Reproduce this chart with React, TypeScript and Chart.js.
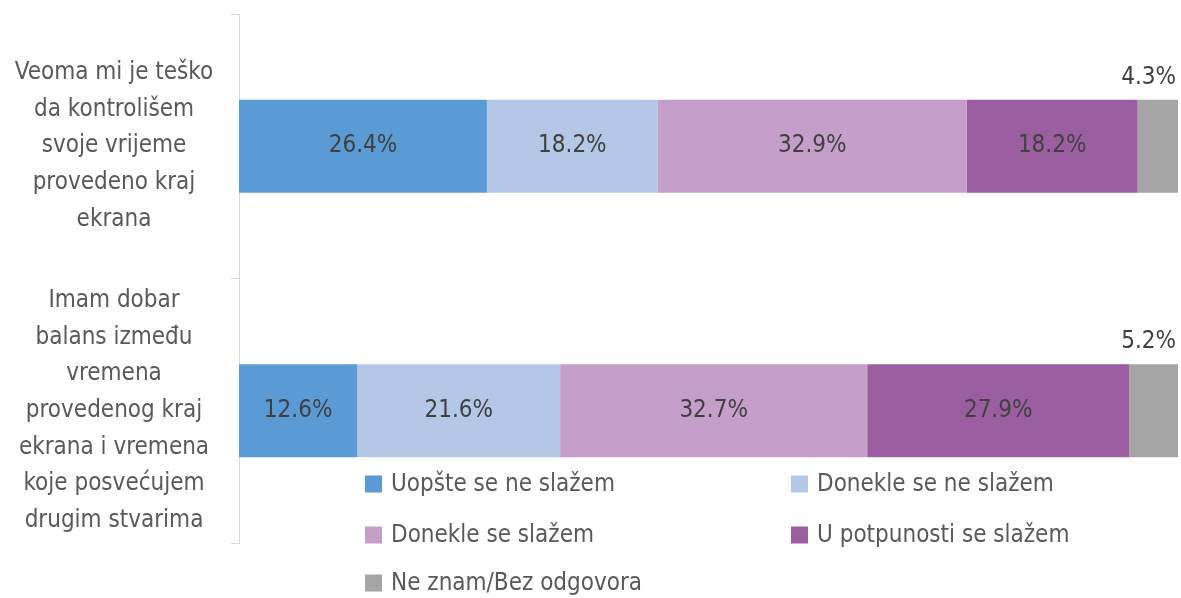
import React, { useEffect, useRef } from "react";
import { Chart, registerables } from "chart.js";

Chart.register(...registerables);

const categories: string[][] = [
  ["Veoma mi je teško", "da kontrolišem", "svoje vrijeme", "provedeno kraj", "ekrana"],
  ["Imam dobar", "balans između", "vremena", "provedenog kraj", "ekrana i vremena", "koje posvećujem", "drugim stvarima"],
];

const seriesNames = [
  "Uopšte se ne slažem",
  "Donekle se ne slažem",
  "Donekle se slažem",
  "U potpunosti se slažem",
  "Ne znam/Bez odgovora",
];

const uopsteNe = [26.4, 12.6];
const doneklaNe = [18.2, 21.6];
const doneklaDa = [32.9, 32.7];
const potpuno = [18.2, 27.9];
const neZnam = [4.3, 5.2];

const colors = ["#5B9BD5", "#B4C7E7", "#C59FC9", "#9B5FA1", "#A5A5A5"];

const FONT = "'Liberation Sans Narrow', 'DejaVu Sans Condensed', 'Roboto', sans-serif";
const FONT_SIZE = 24;

function measureWidest(lines: string[][]): number {
  const c = document.createElement("canvas").getContext("2d")!;
  c.font = `${FONT_SIZE}px ${FONT}`;
  let w = 0;
  lines.forEach((l) => l.forEach((s) => (w = Math.max(w, c.measureText(s).width))));
  return w;
}

const dataLabelPlugin = {
  id: "dataLabels",
  afterDatasetsDraw(chart: any) {
    const ctx = chart.ctx;
    ctx.save();
    ctx.font = `${FONT_SIZE}px ${FONT}`;
    ctx.fillStyle = "#404040";
    chart.data.datasets.forEach((ds: any, di: number) => {
      const meta = chart.getDatasetMeta(di);
      meta.data.forEach((el: any, i: number) => {
        const v = ds.data[i];
        const txt = v.toFixed(1) + "%";
        if (di < 4) {
          ctx.textAlign = "center";
          ctx.textBaseline = "middle";
          ctx.fillText(txt, (el.x + el.base) / 2, el.y);
        } else {
          ctx.textAlign = "right";
          ctx.textBaseline = "middle";
          ctx.fillText(txt, el.x - 2, el.y - el.height / 2 - 22);
        }
      });
    });
    ctx.restore();
  },
};

const legendPlugin = {
  id: "customLegend",
  afterDraw(chart: any) {
    const ctx = chart.ctx;
    ctx.save();
    ctx.font = `${FONT_SIZE}px ${FONT}`;
    ctx.textAlign = "left";
    ctx.textBaseline = "middle";
    const cols = [365, 791];
    const rows = [484, 535, 583];
    seriesNames.forEach((name, i) => {
      const x = cols[i % 2];
      const y = rows[Math.floor(i / 2)];
      ctx.fillStyle = colors[i];
      ctx.fillRect(x, y - 8.5, 17, 17);
      ctx.fillStyle = "#595959";
      ctx.fillText(name, x + 26, y + 1);
    });
    ctx.restore();
  },
};

export default function App() {
  const ref = useRef<HTMLCanvasElement>(null);
  useEffect(() => {
    const widest = measureWidest(categories);
    const axisRight = 239;
    const pad = Math.max(0, axisRight - 8 - 114 - widest / 2);
    const values = [uopsteNe, doneklaNe, doneklaDa, potpuno, neZnam];
    const chart = new Chart(ref.current!, {
      type: "bar",
      data: {
        labels: categories as any,
        datasets: values.map((d, i) => ({
          label: seriesNames[i],
          data: d,
          backgroundColor: colors[i],
          borderWidth: 0,
          barPercentage: 0.352,
          categoryPercentage: 1,
        })),
      },
      options: {
        indexAxis: "y",
        animation: false,
        responsive: false,
        maintainAspectRatio: false,
        layout: { padding: { top: 14, bottom: 55, right: 3, left: 0 } },
        plugins: {
          legend: { display: false },
          tooltip: { enabled: false },
        },
        scales: {
          x: {
            stacked: true,
            min: 0,
            max: 100,
            display: false,
          },
          y: {
            stacked: true,
            afterFit: (scale: any) => {
              scale.width = axisRight;
              scale.paddingTop = 0;
              scale.paddingBottom = 0;
            },
            border: { display: true, color: "#D9D9D9", width: 1 },
            grid: {
              display: true,
              offset: true,
              drawOnChartArea: false,
              drawTicks: true,
              tickLength: 8,
              color: "#D9D9D9",
              lineWidth: 1,
            },
            ticks: {
              crossAlign: "center",
              padding: pad,
              color: "#595959",
              font: { family: FONT, size: FONT_SIZE, lineHeight: 1.53 },
            },
          },
        },
      },
      plugins: [dataLabelPlugin, legendPlugin],
    });
    return () => chart.destroy();
  }, []);
  return (
    <div style={{ position: "absolute", left: 0, top: 0, width: 1181, height: 598, background: "#fff" }}>
      <canvas ref={ref} width={1181} height={598} style={{ display: "block" }} />
    </div>
  );
}
